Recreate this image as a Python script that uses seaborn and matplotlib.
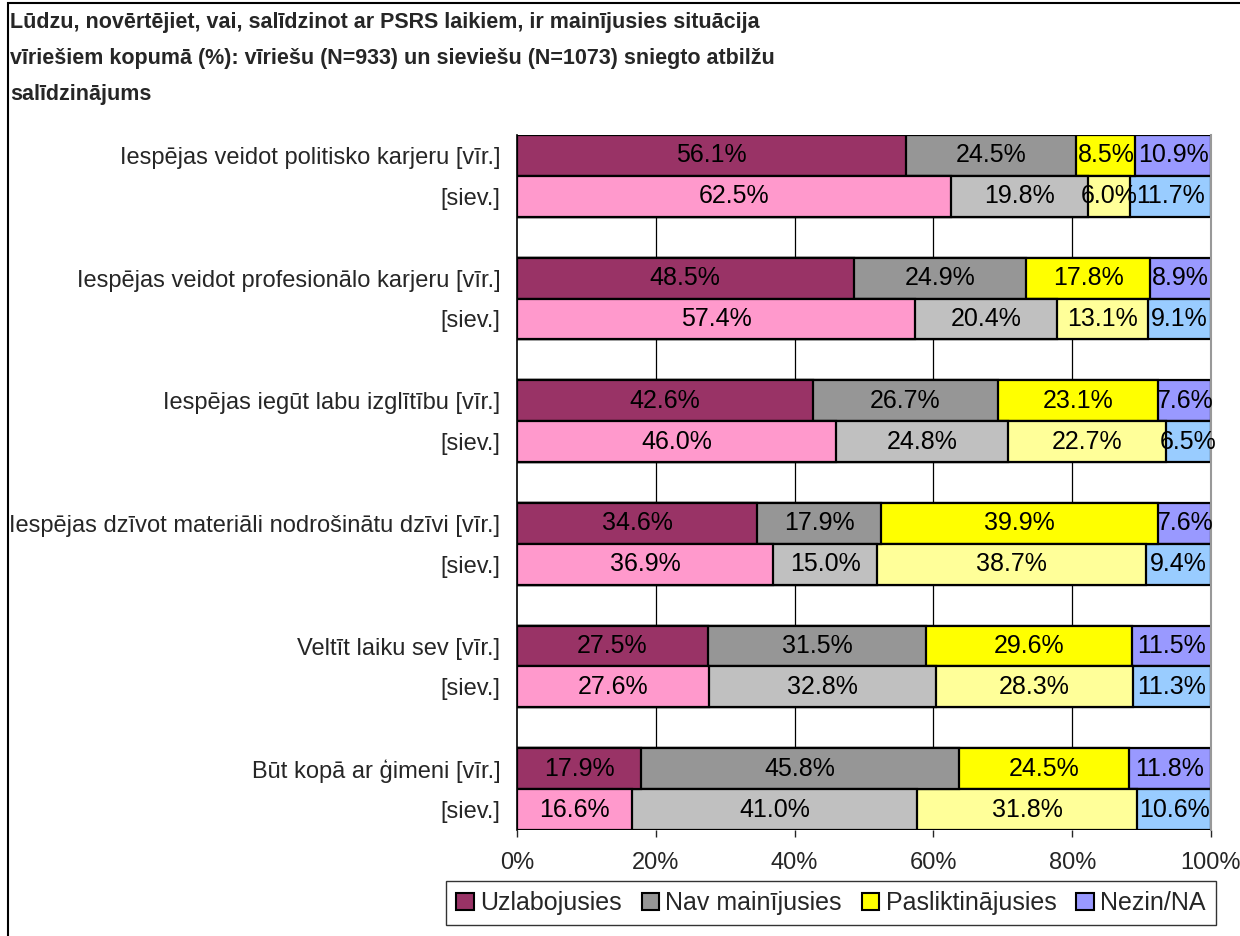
import pandas as pd
import seaborn as sns
import matplotlib.pyplot as plt
from matplotlib.patches import Patch, Rectangle

# dati
items = ['Iespējas veidot politisko karjeru',
         'Iespējas veidot profesionālo karjeru',
         'Iespējas iegūt labu izglītību',
         'Iespējas dzīvot materiāli nodrošinātu dzīvi',
         'Veltīt laiku sev',
         'Būt kopā ar ģimeni']
answers = ['Uzlabojusies', 'Nav mainījusies', 'Pasliktinājusies', 'Nezin/NA']

men_improved = [56.1, 48.5, 42.6, 34.6, 27.5, 17.9]
men_same = [24.5, 24.9, 26.7, 17.9, 31.5, 45.8]
men_worse = [8.5, 17.8, 23.1, 39.9, 29.6, 24.5]
men_na = [10.9, 8.9, 7.6, 7.6, 11.5, 11.8]

women_improved = [62.5, 57.4, 46.0, 36.9, 27.6, 16.6]
women_same = [19.8, 20.4, 24.8, 15.0, 32.8, 41.0]
women_worse = [6.0, 13.1, 22.7, 38.7, 28.3, 31.8]
women_na = [11.7, 9.1, 6.5, 9.4, 11.3, 10.6]

men_colors = ['#993366', '#969696', '#FFFF00', '#9999FF']
women_colors = ['#FF99CC', '#C0C0C0', '#FFFF99', '#99CCFF']

men = [men_improved, men_same, men_worse, men_na]
women = [women_improved, women_same, women_worse, women_na]

sns.set_style('white')
plt.rcParams['font.family'] = ['Liberation Sans', 'DejaVu Sans']

# rindas: vīr., siev., tukša
slots = []
labels = []
for i, it in enumerate(items):
    slots += ['m%d' % i, 'w%d' % i]
    labels += [it + ' [vīr.]', '[siev.]']
    if i < len(items) - 1:
        slots.append('gap%d' % i)
        labels.append('')

rows = []
for i in range(len(items)):
    left_m = 0
    left_w = 0
    for k in range(4):
        rows.append({'slot': 'm%d' % i, 'layer': k, 'left': left_m, 'val': men[k][i],
                     'color': men_colors[k]})
        rows.append({'slot': 'w%d' % i, 'layer': k, 'left': left_w, 'val': women[k][i],
                     'color': women_colors[k]})
        left_m += men[k][i]
        left_w += women[k][i]
df = pd.DataFrame(rows)
df['cum'] = df['left'] + df['val']

fig = plt.figure(figsize=(12.4, 9.36), dpi=100)
ax = fig.add_axes([517 / 1240, 1 - 830 / 936, (1211 - 517) / 1240, (830 - 135) / 936])

# kumulatīvie slāņi no labās uz kreiso
for k in [3, 2, 1, 0]:
    sub = df[df['layer'] == k]
    pal = dict(zip(sub['slot'], sub['color']))
    sns.barplot(data=sub, x='cum', y='slot', hue='slot', order=slots, palette=pal,
                orient='h', width=1.0, errorbar=None, legend=False,
                edgecolor='black', linewidth=1.6, saturation=1, ax=ax)

for _, r in df.iterrows():
    ax.text(r['left'] + r['val'] / 2, slots.index(r['slot']), '%.1f%%' % r['val'],
            ha='center', va='center', fontsize=18, color='black')

ax.set_xlim(0, 100)
ax.set_ylim(len(slots) - 0.5, -0.5)
ax.set_xticks([0, 20, 40, 60, 80, 100])
ax.set_xticklabels(['0%', '20%', '40%', '60%', '80%', '100%'], fontsize=17)
ax.set_yticks(range(len(slots)))
ax.set_yticklabels(labels, fontsize=17)
ax.set_yticks([s - 0.5 for s in range(len(slots) + 1)], minor=True)
ax.tick_params(axis='y', which='major', length=0, pad=12)
ax.tick_params(axis='y', which='minor', length=6, direction='out', width=1)
ax.tick_params(axis='x', length=5, direction='out', width=1, pad=11, bottom=True)
ax.set_xlabel('')
ax.set_ylabel('')

ax.set_axisbelow(True)
for xv in [20, 40, 60, 80]:
    ax.axvline(xv, color='black', lw=0.9, zorder=0)
for s in ['top', 'bottom']:
    ax.spines[s].set_visible(False)
ax.spines['left'].set_color('black')
ax.spines['left'].set_linewidth(1.2)
ax.spines['right'].set_color('#999999')
ax.spines['right'].set_linewidth(1.5)

handles = [Patch(facecolor=c, edgecolor='black', linewidth=1.5) for c in men_colors]
leg = fig.legend(handles, answers, loc='center', bbox_to_anchor=(831 / 1240, 1 - 903 / 936),
                 ncol=4, fontsize=18, frameon=True, fancybox=False, edgecolor='black',
                 handlelength=0.7, handleheight=0.7, handletextpad=0.25, columnspacing=0.8,
                 borderpad=0.4, borderaxespad=0)
leg.get_frame().set_linewidth(1.0)

fig.text(10 / 1240, 1 - 12 / 936,
         'Lūdzu, novērtējiet, vai, salīdzinot ar PSRS laikiem, ir mainījusies situācija\n'
         'vīriešiem kopumā (%): vīriešu (N=933) un sieviešu (N=1073) sniegto atbilžu\n'
         'salīdzinājums',
         ha='left', va='top', fontsize=15.5, fontweight='bold', linespacing=1.95)

fig.patches.append(Rectangle((8 / 1240, -0.1), 1.2, 1 - 3 / 936 + 0.1, transform=fig.transFigure,
                             fill=False, edgecolor='black', linewidth=1.5))

fig.savefig('out.png', dpi=100)
